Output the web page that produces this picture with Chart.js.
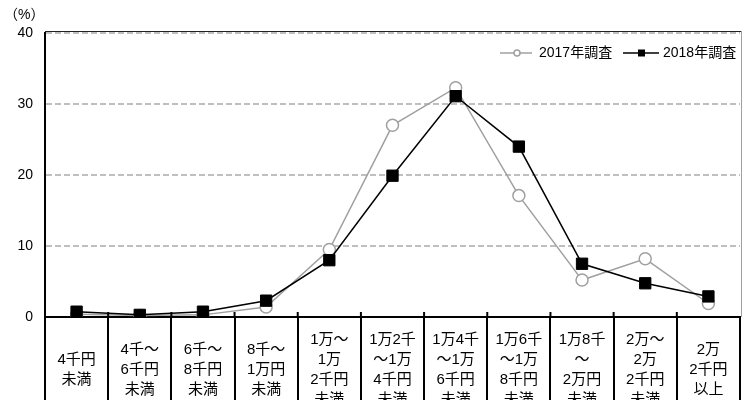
<!DOCTYPE html>
<html>
<head>
<meta charset="utf-8">
<script src="https://cdn.jsdelivr.net/npm/chart.js@4/dist/chart.umd.min.js"></script>
<style>
  html, body { margin: 0; padding: 0; background: #fff; }
  #wrap { width: 749px; height: 400px; position: relative; }
</style>
</head>
<body>
<div id="wrap"><canvas id="c" width="749" height="400"></canvas></div>
<script>
// ---- data ----
const categories = [
  ["4千円", "未満"],
  ["4千～", "6千円", "未満"],
  ["6千～", "8千円", "未満"],
  ["8千～", "1万円", "未満"],
  ["1万～", "1万", "2千円", "未満"],
  ["1万2千", "～1万", "4千円", "未満"],
  ["1万4千", "～1万", "6千円", "未満"],
  ["1万6千", "～1万", "8千円", "未満"],
  ["1万8千", "～", "2万円", "未満"],
  ["2万～", "2万", "2千円", "未満"],
  ["2万", "2千円", "以上"]
];
const seriesNames = ["2017年調査", "2018年調査"];
const values2017 = [0.4, 0.2, 0.3, 1.4, 9.5, 27.0, 32.3, 17.1, 5.2, 8.2, 1.9];
const values2018 = [0.75, 0.3, 0.75, 2.3, 8.0, 19.9, 31.1, 24.0, 7.5, 4.75, 2.9];
const yTicks = [0, 10, 20, 30, 40];
const unitLabel = "（%）";

// ---- styles ----
const FONT = '"Liberation Sans", "Noto Sans CJK JP", sans-serif';
const GRAY = '#a0a0a0';

const decorPlugin = {
  id: 'decor',
  afterDraw(chart) {
    const ctx = chart.ctx;
    const area = chart.chartArea;
    const xs = chart.scales.x;
    const ys = chart.scales.y;
    ctx.save();
    // top border
    ctx.strokeStyle = '#222';
    ctx.lineWidth = 1;
    ctx.beginPath();
    ctx.moveTo(area.left, ys.getPixelForValue(40) - 1.5);
    ctx.lineTo(area.right + 1, ys.getPixelForValue(40) - 1.5);
    ctx.stroke();
    // right border
    ctx.strokeStyle = GRAY;
    ctx.beginPath();
    ctx.moveTo(area.right + 1.5, area.top - 2);
    ctx.lineTo(area.right + 1.5, area.bottom);
    ctx.stroke();
    // small ticks above axis at category boundaries
    ctx.strokeStyle = '#000';
    ctx.lineWidth = 2;
    for (let i = 1; i < categories.length; i++) {
      const bx = (xs.getPixelForValue(i - 1) + xs.getPixelForValue(i)) / 2;
      ctx.beginPath();
      ctx.moveTo(bx, area.bottom - 5);
      ctx.lineTo(bx, area.bottom);
      ctx.stroke();
    }
    // category labels (multi-line, vertically centered)
    ctx.fillStyle = '#000';
    ctx.font = '15px ' + FONT;
    ctx.textAlign = 'center';
    ctx.textBaseline = 'middle';
    const lh = 20;
    const cy = area.bottom + 53;
    categories.forEach((lines, i) => {
      const x = xs.getPixelForValue(i);
      const y0 = cy - (lines.length - 1) * lh / 2;
      lines.forEach((t, k) => ctx.fillText(t, x, y0 + k * lh));
    });
    // unit label
    ctx.textAlign = 'left';
    ctx.font = '14px ' + FONT;
    ctx.fillText(unitLabel, 4, 15);
    // legend
    const ly = 53;
    ctx.font = '14px ' + FONT;
    ctx.textBaseline = 'middle';
    // 2017
    ctx.strokeStyle = GRAY; ctx.lineWidth = 1.5;
    ctx.beginPath(); ctx.moveTo(500, ly); ctx.lineTo(532, ly); ctx.stroke();
    ctx.fillStyle = '#fff';
    ctx.beginPath(); ctx.arc(517, ly, 3, 0, Math.PI * 2); ctx.fill(); ctx.stroke();
    ctx.fillStyle = '#000';
    ctx.fillText(seriesNames[0], 539, ly);
    // 2018
    ctx.strokeStyle = '#000'; ctx.lineWidth = 1.5;
    ctx.beginPath(); ctx.moveTo(623, ly); ctx.lineTo(659, ly); ctx.stroke();
    ctx.fillRect(638, ly - 3.5, 7, 7);
    ctx.fillText(seriesNames[1], 663, ly);
    ctx.restore();
  }
};

new Chart(document.getElementById('c'), {
  type: 'line',
  data: {
    labels: categories.map(c => c.join('')),
    datasets: [
      {
        label: seriesNames[0],
        data: values2017,
        borderColor: GRAY,
        borderWidth: 1.5,
        backgroundColor: '#fff',
        pointStyle: 'circle',
        pointRadius: 6,
        pointBorderWidth: 1.5,
        pointBorderColor: GRAY,
        pointBackgroundColor: '#fff',
        tension: 0,
        order: 1
      },
      {
        label: seriesNames[1],
        data: values2018,
        borderColor: '#000',
        borderWidth: 1.5,
        backgroundColor: '#000',
        pointStyle: 'rect',
        pointRadius: 8,
        pointBorderWidth: 1,
        pointBorderColor: '#000',
        pointBackgroundColor: '#000',
        tension: 0,
        order: 0
      }
    ]
  },
  options: {
    responsive: false,
    animation: false,
    events: [],
    layout: { padding: { top: 33, right: 2, left: 0, bottom: 0 } },
    plugins: { legend: { display: false }, tooltip: { enabled: false }, title: { display: false } },
    scales: {
      x: {
        type: 'category',
        offset: true,
        afterFit(scale) { scale.height = 83; },
        ticks: { display: false },
        grid: {
          offset: true,
          drawOnChartArea: false,
          drawTicks: true,
          tickLength: 90,
          color: '#000',
          lineWidth: 2
        },
        border: { display: true, color: '#000', width: 2 }
      },
      y: {
        min: 0,
        max: 40,
        afterFit(scale) { scale.width = 45; },
        afterBuildTicks(scale) { scale.ticks = yTicks.map(v => ({ value: v })); },
        ticks: {
          color: '#000',
          font: { family: FONT, size: 14 },
          padding: 12,
          callback: v => String(v)
        },
        grid: {
          drawTicks: false,
          color: ctx => ctx.tick && ctx.tick.value === 0 ? 'rgba(0,0,0,0)' : '#bfbfbf',
          lineWidth: 2
        },
        border: { display: true, color: '#000', width: 2, dash: [6, 3] }
      }
    }
  },
  plugins: [decorPlugin]
});
</script>
</body>
</html>
